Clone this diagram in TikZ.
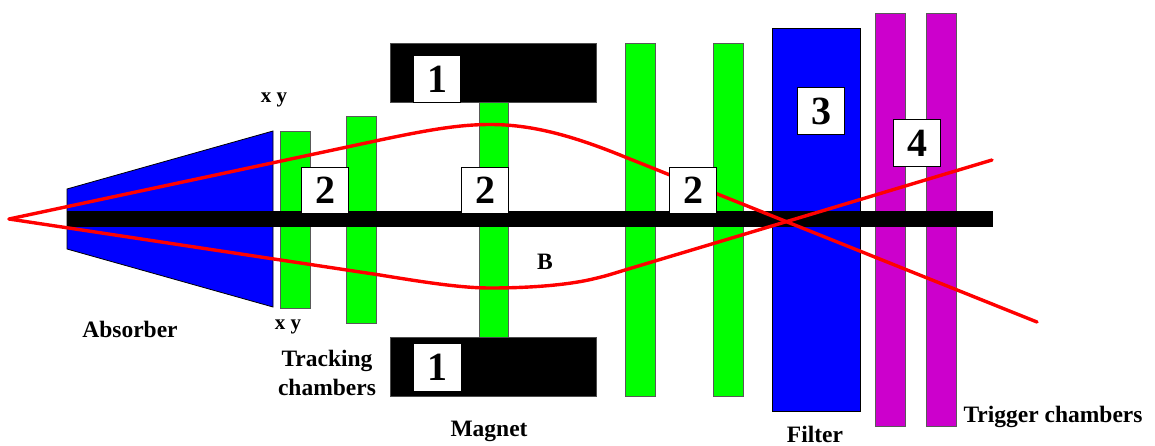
\documentclass[tikz,border=0pt]{standalone}
\usepackage{fontspec}
\setmainfont{Liberation Serif}
\definecolor{cgreen}{RGB}{0,255,0}
\definecolor{cblue}{RGB}{0,0,255}
\definecolor{cpurple}{RGB}{204,0,204}
\definecolor{cred}{RGB}{255,0,0}
\tikzset{
  bar/.style={draw=black!65,line width=0.9pt},
  chamber/.style={bar,fill=cgreen},
  trigger/.style={bar,fill=cpurple},
  magnetblock/.style={draw=black!70,line width=0.8pt,fill=black},
  absorberblock/.style={draw=black,line width=0.8pt,fill=cblue},
  track/.style={draw=cred,line width=3.4pt,line cap=round,line join=round},
  numbox/.style={draw=black,line width=1.4pt,fill=white,minimum width=46.5pt,minimum height=46.5pt,inner sep=0pt,font=\fontsize{40}{40}\selectfont\bfseries},
  lab/.style={inner sep=0pt,font=\fontsize{23.5}{28.5}\selectfont\bfseries,align=center},
  labsmall/.style={inner sep=0pt,font=\fontsize{21}{24}\selectfont\bfseries},
}
\begin{document}
\begin{tikzpicture}[x=1pt,y=-1pt]
\useasboundingbox[fill=white] (0,0) rectangle (1155,445);
% chambers
\draw[chamber] (280,131) rectangle (310,308);
\draw[chamber] (346,116) rectangle (376,323);
\draw[chamber] (479,102) rectangle (508,337);
\draw[chamber] (625,43) rectangle (655,396);
\draw[chamber] (713,43) rectangle (743,396);
% magnet
\draw[magnetblock] (390,43) rectangle (596,102);
\draw[magnetblock] (390,337) rectangle (596,396);
% absorber and filter
\draw[absorberblock] (67,189) -- (273,131) -- (273,307) -- (67,249) -- cycle;
\draw[absorberblock] (772,28) rectangle (860,411);
% trigger chambers
\draw[trigger] (875,13) rectangle (905,426);
\draw[trigger] (926,13) rectangle (956,426);
% beam
\fill[black] (67,211) rectangle (993,227);
% tracks
\draw[track] (9,219) -- (380,140) .. controls (430,129.5) and (460,124.5) .. (490,124.5)
  .. controls (530,124.5) and (570,134.5) .. (625,157) -- (1037,322);
\draw[track] (9,219) -- (380,275) .. controls (420,281.5) and (460,288) .. (490,288)
  .. controls (530,288) and (570,285) .. (597,278) .. controls (606,276) and (615,273) .. (625,270) -- (992,160);
% numbered boxes
\node[numbox] (m1) at (437,79) {1};
\node[numbox,draw=none,minimum width=47pt,minimum height=47pt] (m2) at (437,367) {1};
\node[numbox] (t1) at (325,190.5) {2};
\node[numbox] (t2) at (485,190.5) {2};
\node[numbox] (t3) at (693,190.5) {2};
\node[numbox] (f) at (821,111) {3};
\node[numbox] (g) at (917,143) {4};
% labels
\node[labsmall] (xy1) at (274,100) {x y};
\node[labsmall] (xy2) at (288,327) {x y};
\node[lab] (abs) at (130,329) {Absorber};
\node[lab] (trk) at (327,373) {Tracking\\chambers};
\node[lab] (mag) at (489,431) {Magnet};
\node[lab] (b) at (545,262) {B};
\node[lab] (fil) at (815,434.5) {Filter};
\node[lab] (trg) at (1053,417) {Trigger chambers};
\end{tikzpicture}
\end{document}
